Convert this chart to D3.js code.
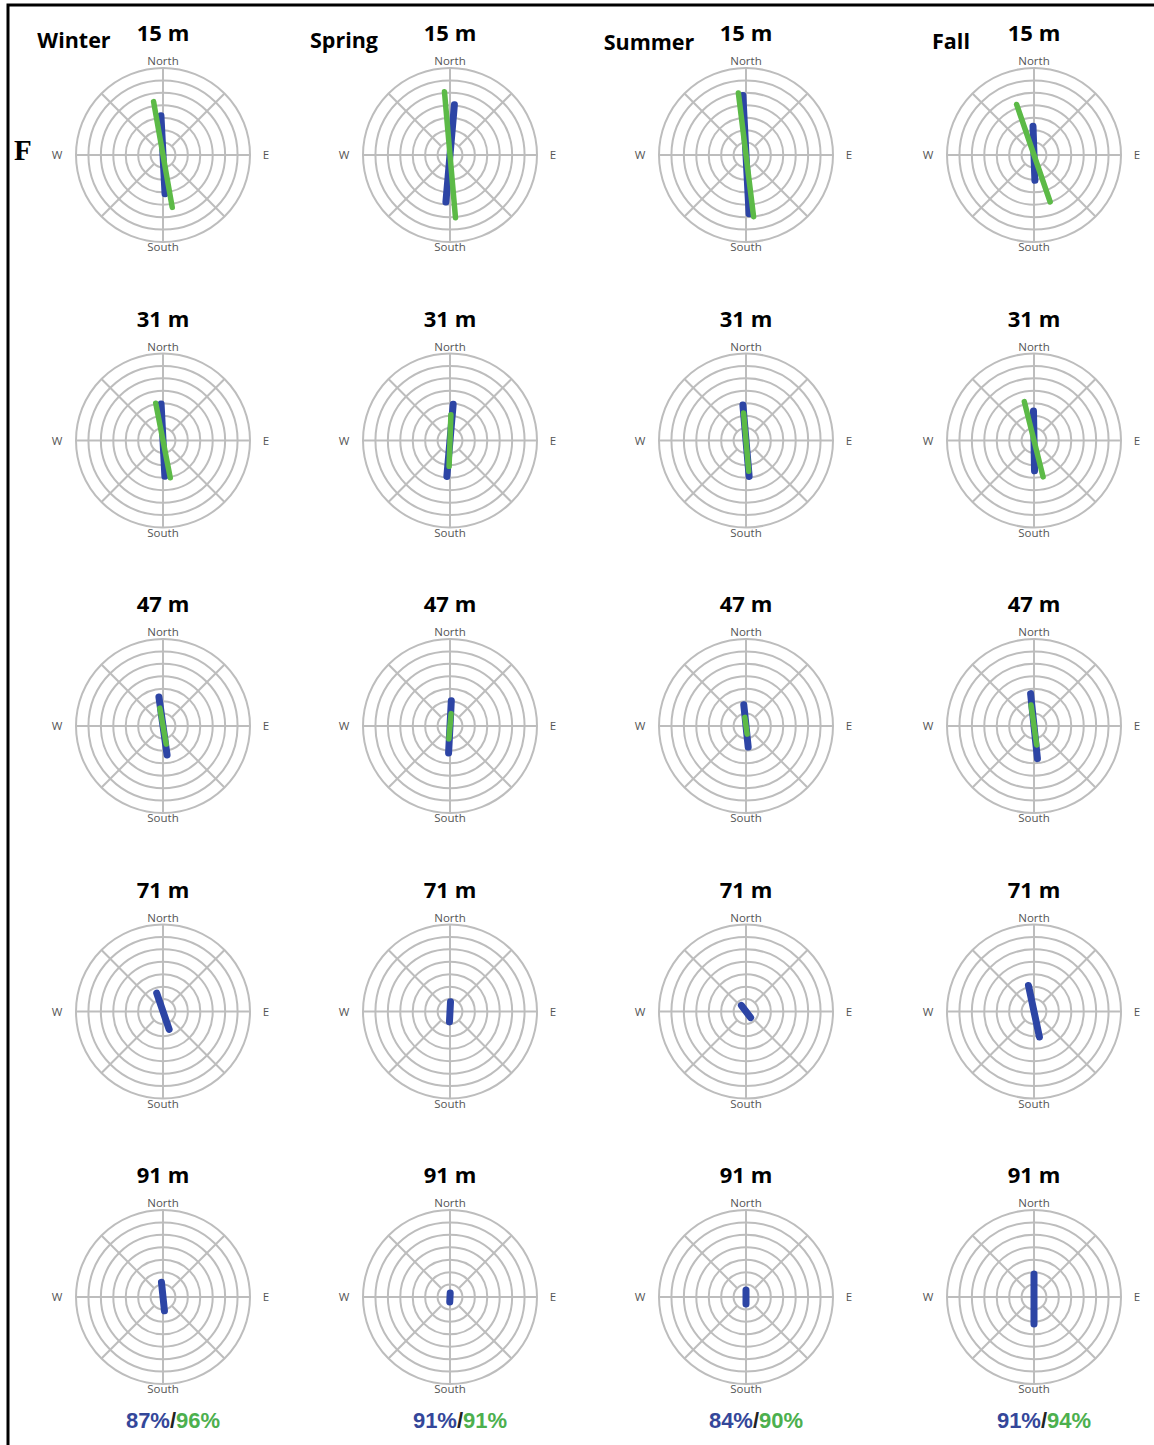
<!DOCTYPE html>
<html>
<head>
<meta charset="utf-8">
<script src="https://cdn.jsdelivr.net/npm/d3@7"></script>
<style>
  body { margin: 0; background: #fff; }
  svg { display: block; }
</style>
</head>
<body>
<div id="chart"></div>
<script>
// seasons (columns) and depths (rows)
const seasons = ["Winter", "Spring", "Summer", "Fall"];
const depths = ["15 m", "31 m", "47 m", "71 m", "91 m"];

// ring values of the polar grid
const ringValues = [5, 10, 15, 20, 25, 30, 35];
const compassLabels = ["North", "E", "South", "W"];

// principal axis of each bar, degrees clockwise from north
// rows = depths, columns = seasons
const blueAngle = [
    [-3, 5, -3, -2],
    [-3, 5, -5, -1],
    [-8, 3, -6, -6],
    [-19, 3, -37, -12],
    [-6, 3, 0, 0]
];
// length toward the angle (north end) and opposite (south end)
const blueNorth = [
    [15.8, 20.3, 24.0, 11.6],
    [14.7, 14.6, 14.3, 11.9],
    [11.8, 10.2, 8.6, 13.1],
    [7.8, 3.9, 3.1, 10.7],
    [6.0, 1.6, 2.8, 9.3]
];
const blueSouth = [
    [15.6, 19.0, 23.7, 10.2],
    [14.4, 14.5, 14.5, 12.2],
    [11.8, 10.9, 8.5, 13.2],
    [7.6, 4.2, 3.1, 10.5],
    [5.6, 2.0, 2.8, 10.9]
];

const greenAngle = [
    [-10, -5, -7, -19],
    [-11, 2, -5, -14],
    [-10, 5, -8, -8],
    [null, null, null, null],
    [null, null, null, null]
];
const greenNorth = [
    [21.8, 25.5, 25.1, 21.5],
    [15.3, 10.4, 11.1, 16.1],
    [7.3, 5.0, 3.5, 8.5],
    [null, null, null, null],
    [null, null, null, null]
];
const greenSouth = [
    [21.4, 25.3, 25.0, 20.0],
    [15.3, 10.4, 12.4, 15.1],
    [7.4, 5.2, 3.3, 7.7],
    [null, null, null, null],
    [null, null, null, null]
];

// bottom percentages
const bluePct = ["87%", "91%", "84%", "91%"];
const greenPct = ["96%", "91%", "90%", "94%"];

const width = 1154, height = 1445;
const outerR = 87;
const BLUE = "#2d45a5", GREEN = "#5cba47", GRID = "#bdbdbd";

const svg = d3.select("#chart")
    .append("svg")
    .attr("width", width)
    .attr("height", height);

// frame
svg.append("rect")
    .attr("x", 8).attr("y", 5)
    .attr("width", width + 10).attr("height", height + 10)
    .attr("fill", "none")
    .attr("stroke", "#000")
    .attr("stroke-width", 3);

var x = d3.scaleOrdinal().domain(seasons).range([163, 450, 746, 1034]);
var y = d3.scalePoint().domain(depths).range([155, 1297]);
var r = d3.scaleLinear().domain([0, d3.max(ringValues)]).range([0, outerR]);

// season labels
const seasonLabelX = { Winter: 74, Spring: 344, Summer: 649, Fall: 951 };
const seasonLabelY = { Winter: 48, Spring: 48, Summer: 50, Fall: 49 };
svg.selectAll("text.season")
    .data(seasons)
    .enter()
    .append("text")
    .attr("class", "season")
    .attr("x", d => seasonLabelX[d])
    .attr("y", d => seasonLabelY[d])
    .attr("text-anchor", "middle")
    .style("font-family", "'Open Sans', sans-serif")
    .style("font-weight", 700)
    .style("font-size", "21.5px")
    .text(d => d);

svg.append("text")
    .attr("x", 14).attr("y", 160)
    .style("font-family", "'Liberation Serif', serif")
    .style("font-weight", 700)
    .style("font-size", "29px")
    .text("F");

const polar = function (angle, len) {
    const a = angle * Math.PI / 180;
    return [r(len) * Math.sin(a), -r(len) * Math.cos(a)];
};

depths.forEach((depth, i) => {
    seasons.forEach((season, j) => {
        const g = svg.append("g")
            .attr("transform", "translate(" + x(season) + "," + y(depth) + ")");

        g.append("text")
            .attr("x", 0).attr("y", -114)
            .attr("text-anchor", "middle")
            .style("font-family", "'Open Sans', sans-serif")
            .style("font-weight", 700)
            .style("font-size", "22px")
            .text(depth);

        // rings
        g.selectAll("circle.ring")
            .data(ringValues)
            .enter()
            .append("circle")
            .attr("class", "ring")
            .attr("r", d => r(d))
            .attr("fill", "none")
            .attr("stroke", GRID)
            .attr("stroke-width", 2);

        // spokes
        g.selectAll("line.spoke")
            .data([0, 45, 90, 135, 180, 225, 270, 315])
            .enter()
            .append("line")
            .attr("class", "spoke")
            .attr("x1", d => d % 90 === 0 ? 0 : polar(d, ringValues[0])[0])
            .attr("y1", d => d % 90 === 0 ? 0 : polar(d, ringValues[0])[1])
            .attr("x2", d => polar(d, d3.max(ringValues))[0])
            .attr("y2", d => polar(d, d3.max(ringValues))[1])
            .attr("stroke", GRID)
            .attr("stroke-width", 2);

        // compass labels
        const labelPos = {
            North: [0, -90], South: [0, 96], W: [-106, 4], E: [103, 4]
        };
        g.selectAll("text.compass")
            .data(compassLabels)
            .enter()
            .append("text")
            .attr("class", "compass")
            .attr("x", d => labelPos[d][0])
            .attr("y", d => labelPos[d][1])
            .attr("text-anchor", "middle")
            .style("font-family", "'Open Sans', sans-serif")
            .style("font-size", "11.5px")
            .style("fill", "#555")
            .text(d => d);

        const bars = [
            { color: BLUE, w: 7, a: blueAngle[i][j], n: blueNorth[i][j], s: blueSouth[i][j] },
            { color: GREEN, w: 5.5, a: greenAngle[i][j], n: greenNorth[i][j], s: greenSouth[i][j] }
        ].filter(b => b.a !== null);

        g.selectAll("line.bar")
            .data(bars)
            .enter()
            .append("line")
            .attr("class", "bar")
            .attr("x1", d => polar(d.a, d.n)[0])
            .attr("y1", d => polar(d.a, d.n)[1])
            .attr("x2", d => polar(d.a + 180, d.s)[0])
            .attr("y2", d => polar(d.a + 180, d.s)[1])
            .attr("stroke", d => d.color)
            .attr("stroke-width", d => d.w)
            .attr("stroke-linecap", "round");
    });
});

// percentages under the last row
const pct = svg.selectAll("text.pct")
    .data(seasons)
    .enter()
    .append("text")
    .attr("class", "pct")
    .attr("x", d => x(d) + 10)
    .attr("y", 1428)
    .attr("text-anchor", "middle")
    .style("font-family", "'Liberation Sans', Arial, sans-serif")
    .style("font-weight", 700)
    .style("font-size", "22px");
pct.append("tspan").style("fill", "#34479a").text((d, k) => bluePct[k]);
pct.append("tspan").style("fill", "#222").text("/");
pct.append("tspan").style("fill", "#4cb04e").text((d, k) => greenPct[k]);
</script>
</body>
</html>
